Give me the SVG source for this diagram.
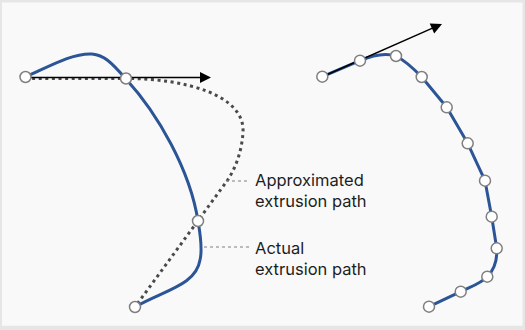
<svg xmlns="http://www.w3.org/2000/svg" width="525" height="330" viewBox="0 0 525 330">
  <defs>
    <style>
      .pt { fill: #ffffff; stroke: #7f7f7f; stroke-width: 1.5; }
      .blue { fill: none; stroke: #2b5597; stroke-width: 3; stroke-linecap: round; stroke-linejoin: round; }
      .dots { fill: none; stroke: #4a4a4a; stroke-width: 3; stroke-dasharray: 3 3.6; }
      .arrow { fill: none; stroke: #000000; stroke-width: 1.5; }
      .head { fill: #000000; }
      .leader { fill: none; stroke: #808080; stroke-width: 1.2; stroke-dasharray: 3 3; }
      .lbl { font-family: Inter, "Open Sans", "Liberation Sans", sans-serif; font-size: 16.5px; fill: #1e1e1e; }
    </style>
  </defs>

  <rect x="0" y="0" width="525" height="330" fill="#e6e6e6"/>
  <rect x="2" y="2.5" width="520.5" height="323.2" fill="#f9f9f9"/>

  <g id="connectors">
    <!-- left: actual path -->
    <path class="blue" d="M25.5,77 C50,66 72,53 92,54 C104,55 111,62 126,79 C158,114 190,170 198,221 C201,238 202,252 200,260 C196,285 165,290 135,307"/>
    <!-- left: approximated path -->
    <path class="dots" d="M25.5,78.5 L126,78.5 C185,78.5 245,95 243,132 C242,150 236,168 227,181 L135,307"/>
    <!-- left: tangent arrow -->
    <line class="arrow" x1="25.5" y1="77.5" x2="201" y2="77.5"/>
    <polygon class="head" points="200,72 211,77.5 200,83"/>
    <!-- leaders -->
    <line class="leader" x1="226" y1="181" x2="249" y2="181"/>
    <line class="leader" x1="204" y1="247" x2="249" y2="247"/>
    <!-- right: actual path -->
    <path class="blue" d="M322.3,76.7 L360,60.7 C372,55.5 386,53 396,56 C404,60 412,67 421.7,77 L446.7,107.3 L467.7,143.3 L485,180.7 L491.7,216.7 L496.7,248.3 C497.5,262 494,270 487.3,276.7 C480,284 470,287 460.7,291.7 L429,306.7"/>
    <!-- right: tangent arrow -->
    <line class="arrow" x1="322.3" y1="76.7" x2="432.5" y2="28.1"/>
    <polygon class="head" points="442,24 434.2,33.5 429.7,23.4"/>
  </g>

  <g id="left-points">
    <g id="p-left-1"><circle class="pt" cx="25.5" cy="77" r="5.5"/></g>
    <g id="p-left-2"><circle class="pt" cx="126" cy="78.5" r="5.5"/></g>
    <g id="p-left-3"><circle class="pt" cx="198" cy="221" r="5.5"/></g>
    <g id="p-left-4"><circle class="pt" cx="135" cy="307" r="5.5"/></g>
  </g>

  <g id="right-points">
    <g id="p-right-1"><circle class="pt" cx="322.3" cy="76.7" r="5.5"/></g>
    <g id="p-right-2"><circle class="pt" cx="360" cy="60.7" r="5.5"/></g>
    <g id="p-right-3"><circle class="pt" cx="396" cy="56" r="5.5"/></g>
    <g id="p-right-4"><circle class="pt" cx="421.7" cy="77" r="5.5"/></g>
    <g id="p-right-5"><circle class="pt" cx="446.7" cy="107.3" r="5.5"/></g>
    <g id="p-right-6"><circle class="pt" cx="467.7" cy="143.3" r="5.5"/></g>
    <g id="p-right-7"><circle class="pt" cx="485" cy="180.7" r="5.5"/></g>
    <g id="p-right-8"><circle class="pt" cx="491.7" cy="216.7" r="5.5"/></g>
    <g id="p-right-9"><circle class="pt" cx="496.7" cy="248.3" r="5.5"/></g>
    <g id="p-right-10"><circle class="pt" cx="487.3" cy="276.7" r="5.5"/></g>
    <g id="p-right-11"><circle class="pt" cx="460.7" cy="291.7" r="5.5"/></g>
    <g id="p-right-12"><circle class="pt" cx="429" cy="306.7" r="5.5"/></g>
  </g>

  <g id="label-approximated">
    <text class="lbl" x="255" y="186">Approximated</text>
    <text class="lbl" x="255" y="206.7">extrusion path</text>
  </g>
  <g id="label-actual">
    <text class="lbl" x="255" y="254.3">Actual</text>
    <text class="lbl" x="255" y="275">extrusion path</text>
  </g>
</svg>
